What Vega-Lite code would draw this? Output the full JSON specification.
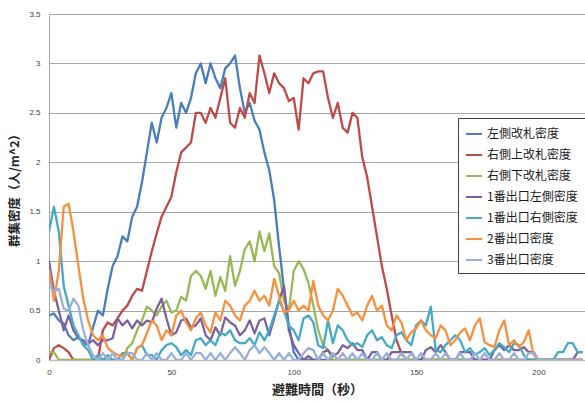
{
"$schema": "https://vega.github.io/schema/vega-lite/v6.json",
"autosize": {"type": "none"},
"width": 536, "height": 346,
"padding": {"left": 49, "top": 14, "right": 0, "bottom": 41},
"background": "white",
"config": {"view": {"stroke": null}, "font": "Noto Sans CJK JP"},
"data": {"values": [
{"t":0,"左側改札密度":0.45,"右側上改札密度":0,"右側下改札密度":0.08,"1番出口左側密度":1.0,"1番出口右側密度":1.3,"2番出口密度":0.92,"3番出口密度":0.75},
{"t":2,"左側改札密度":0.47,"右側上改札密度":0.12,"右側下改札密度":0.08,"1番出口左側密度":0.7,"1番出口右側密度":1.55,"2番出口密度":0.6,"3番出口密度":0.7},
{"t":4,"左側改札密度":0.4,"右側上改札密度":0.15,"右側下改札密度":0,"1番出口左側密度":0.5,"1番出口右側密度":1.3,"2番出口密度":0.9,"3番出口密度":0.72},
{"t":6,"左側改札密度":0.37,"右側上改札密度":0.12,"右側下改札密度":0,"1番出口左側密度":0.3,"1番出口右側密度":0.75,"2番出口密度":1.55,"3番出口密度":0.52},
{"t":8,"左側改札密度":0.25,"右側上改札密度":0.08,"右側下改札密度":0,"1番出口左側密度":0.45,"1番出口右側密度":0.55,"2番出口密度":1.58,"3番出口密度":0.5},
{"t":10,"左側改札密度":0.2,"右側上改札密度":0,"右側下改札密度":0,"1番出口左側密度":0.3,"1番出口右側密度":0.35,"2番出口密度":1.3,"3番出口密度":0.62},
{"t":12,"左側改札密度":0.23,"右側上改札密度":0,"右側下改札密度":0,"1番出口左側密度":0.22,"1番出口右側密度":0.25,"2番出口密度":0.95,"3番出口密度":0.55},
{"t":14,"左側改札密度":0.17,"右側上改札密度":0,"右側下改札密度":0,"1番出口左側密度":0.2,"1番出口右側密度":0.15,"2番出口密度":0.62,"3番出口密度":0.3},
{"t":16,"左側改札密度":0.15,"右側上改札密度":0,"右側下改札密度":0,"1番出口左側密度":0.17,"1番出口右側密度":0.1,"2番出口密度":0.4,"3番出口密度":0.15},
{"t":18,"左側改札密度":0.33,"右側上改札密度":0,"右側下改札密度":0,"1番出口左側密度":0.2,"1番出口右側密度":0,"2番出口密度":0.25,"3番出口密度":0.05},
{"t":20,"左側改札密度":0.5,"右側上改札密度":0,"右側下改札密度":0,"1番出口左側密度":0.15,"1番出口右側密度":0.05,"2番出口密度":0.2,"3番出口密度":0},
{"t":22,"左側改札密度":0.45,"右側上改札密度":0.3,"右側下改札密度":0,"1番出口左側密度":0.2,"1番出口右側密度":0,"2番出口密度":0.25,"3番出口密度":0.07},
{"t":24,"左側改札密度":0.72,"右側上改札密度":0.38,"右側下改札密度":0,"1番出口左側密度":0.2,"1番出口右側密度":0.05,"2番出口密度":0.12,"3番出口密度":0},
{"t":26,"左側改札密度":0.95,"右側上改札密度":0.35,"右側下改札密度":0,"1番出口左側密度":0.22,"1番出口右側密度":0,"2番出口密度":0.08,"3番出口密度":0.07},
{"t":28,"左側改札密度":1.05,"右側上改札密度":0.42,"右側下改札密度":0,"1番出口左側密度":0.42,"1番出口右側密度":0,"2番出口密度":0.05,"3番出口密度":0},
{"t":30,"左側改札密度":1.25,"右側上改札密度":0.5,"右側下改札密度":0,"1番出口左側密度":0.35,"1番出口右側密度":0.07,"2番出口密度":0.04,"3番出口密度":0},
{"t":32,"左側改札密度":1.2,"右側上改札密度":0.55,"右側下改札密度":0.12,"1番出口左側密度":0.4,"1番出口右側密度":0.07,"2番出口密度":0.08,"3番出口密度":0.07},
{"t":34,"左側改札密度":1.45,"右側上改札密度":0.65,"右側下改札密度":0.17,"1番出口左側密度":0.32,"1番出口右側密度":0,"2番出口密度":0,"3番出口密度":0.07},
{"t":36,"左側改札密度":1.55,"右側上改札密度":0.72,"右側下改札密度":0.3,"1番出口左側密度":0.4,"1番出口右側密度":0.12,"2番出口密度":0.12,"3番出口密度":0},
{"t":38,"左側改札密度":1.8,"右側上改札密度":0.7,"右側下改札密度":0.4,"1番出口左側密度":0.35,"1番出口右側密度":0.15,"2番出口密度":0.15,"3番出口密度":0},
{"t":40,"左側改札密度":2.1,"右側上改札密度":0.9,"右側下改札密度":0.54,"1番出口左側密度":0.4,"1番出口右側密度":0.05,"2番出口密度":0.27,"3番出口密度":0.07},
{"t":42,"左側改札密度":2.4,"右側上改札密度":1.1,"右側下改札密度":0.5,"1番出口左側密度":0.38,"1番出口右側密度":0.05,"2番出口密度":0.4,"3番出口密度":0},
{"t":44,"左側改札密度":2.2,"右側上改札密度":1.28,"右側下改札密度":0.45,"1番出口左側密度":0.52,"1番出口右側密度":0,"2番出口密度":0.35,"3番出口密度":0.07},
{"t":46,"左側改札密度":2.45,"右側上改札密度":1.45,"右側下改札密度":0.54,"1番出口左側密度":0.62,"1番出口右側密度":0.1,"2番出口密度":0.2,"3番出口密度":0},
{"t":48,"左側改札密度":2.55,"右側上改札密度":1.55,"右側下改札密度":0.6,"1番出口左側密度":0.42,"1番出口右側密度":0.15,"2番出口密度":0.3,"3番出口密度":0},
{"t":50,"左側改札密度":2.7,"右側上改札密度":1.65,"右側下改札密度":0.48,"1番出口左側密度":0.25,"1番出口右側密度":0.17,"2番出口密度":0.25,"3番出口密度":0.07},
{"t":52,"左側改札密度":2.35,"右側上改札密度":1.9,"右側下改札密度":0.5,"1番出口左側密度":0.28,"1番出口右側密度":0.13,"2番出口密度":0.45,"3番出口密度":0},
{"t":54,"左側改札密度":2.6,"右側上改札密度":2.1,"右側下改札密度":0.64,"1番出口左側密度":0.4,"1番出口右側密度":0.05,"2番出口密度":0.5,"3番出口密度":0},
{"t":56,"左側改札密度":2.5,"右側上改札密度":2.15,"右側下改札密度":0.6,"1番出口左側密度":0.42,"1番出口右側密度":0.1,"2番出口密度":0.38,"3番出口密度":0.07},
{"t":58,"左側改札密度":2.65,"右側上改札密度":2.2,"右側下改札密度":0.85,"1番出口左側密度":0.33,"1番出口右側密度":0.05,"2番出口密度":0.3,"3番出口密度":0},
{"t":60,"左側改札密度":2.9,"右側上改札密度":2.5,"右側下改札密度":0.9,"1番出口左側密度":0.35,"1番出口右側密度":0.2,"2番出口密度":0.42,"3番出口密度":0.07},
{"t":62,"左側改札密度":3.0,"右側上改札密度":2.5,"右側下改札密度":0.85,"1番出口左側密度":0.42,"1番出口右側密度":0.22,"2番出口密度":0.48,"3番出口密度":0.07},
{"t":64,"左側改札密度":2.8,"右側上改札密度":2.4,"右側下改札密度":0.72,"1番出口左側密度":0.25,"1番出口右側密度":0.15,"2番出口密度":0.35,"3番出口密度":0},
{"t":66,"左側改札密度":3.0,"右側上改札密度":2.55,"右側下改札密度":0.9,"1番出口左側密度":0.2,"1番出口右側密度":0.2,"2番出口密度":0.28,"3番出口密度":0.07},
{"t":68,"左側改札密度":2.85,"右側上改札密度":2.45,"右側下改札密度":0.65,"1番出口左側密度":0.33,"1番出口右側密度":0.15,"2番出口密度":0.48,"3番出口密度":0},
{"t":70,"左側改札密度":2.75,"右側上改札密度":2.65,"右側下改札密度":0.84,"1番出口左側密度":0.25,"1番出口右側密度":0.28,"2番出口密度":0.4,"3番出口密度":0.07},
{"t":72,"左側改札密度":2.95,"右側上改札密度":2.85,"右側下改札密度":0.7,"1番出口左側密度":0.43,"1番出口右側密度":0.25,"2番出口密度":0.6,"3番出口密度":0},
{"t":74,"左側改札密度":3.0,"右側上改札密度":2.4,"右側下改札密度":1.05,"1番出口左側密度":0.38,"1番出口右側密度":0.3,"2番出口密度":0.55,"3番出口密度":0.07},
{"t":76,"左側改札密度":3.08,"右側上改札密度":2.35,"右側下改札密度":0.75,"1番出口左側密度":0.35,"1番出口右側密度":0.2,"2番出口密度":0.45,"3番出口密度":0.13},
{"t":78,"左側改札密度":2.75,"右側上改札密度":2.55,"右側下改札密度":0.9,"1番出口左側密度":0.25,"1番出口右側密度":0.17,"2番出口密度":0.4,"3番出口密度":0.07},
{"t":80,"左側改札密度":2.5,"右側上改札密度":2.45,"右側下改札密度":1.12,"1番出口左側密度":0.3,"1番出口右側密度":0.17,"2番出口密度":0.55,"3番出口密度":0},
{"t":82,"左側改札密度":2.6,"右側上改札密度":2.7,"右側下改札密度":1.2,"1番出口左側密度":0.4,"1番出口右側密度":0.22,"2番出口密度":0.6,"3番出口密度":0.1},
{"t":84,"左側改札密度":2.42,"右側上改札密度":2.6,"右側下改札密度":1.0,"1番出口左側密度":0.27,"1番出口右側密度":0.15,"2番出口密度":0.7,"3番出口密度":0.15},
{"t":86,"左側改札密度":2.33,"右側上改札密度":3.08,"右側下改札密度":1.3,"1番出口左側密度":0.4,"1番出口右側密度":0.28,"2番出口密度":0.6,"3番出口密度":0.07},
{"t":88,"左側改札密度":2.1,"右側上改札密度":2.9,"右側下改札密度":1.1,"1番出口左側密度":0.42,"1番出口右側密度":0.2,"2番出口密度":0.65,"3番出口密度":0.13},
{"t":90,"左側改札密度":1.92,"右側上改札密度":2.7,"右側下改札密度":1.28,"1番出口左側密度":0.25,"1番出口右側密度":0.3,"2番出口密度":0.55,"3番出口密度":0.07},
{"t":92,"左側改札密度":1.62,"右側上改札密度":2.9,"右側下改札密度":0.95,"1番出口左側密度":0.42,"1番出口右側密度":0.45,"2番出口密度":0.82,"3番出口密度":0},
{"t":94,"左側改札密度":1.15,"右側上改札密度":2.8,"右側下改札密度":0.88,"1番出口左側密度":0.6,"1番出口右側密度":0.6,"2番出口密度":0.65,"3番出口密度":0.07},
{"t":96,"左側改札密度":0.72,"右側上改札密度":2.75,"右側下改札密度":0.6,"1番出口左側密度":0.75,"1番出口右側密度":0.5,"2番出口密度":0.48,"3番出口密度":0},
{"t":98,"左側改札密度":0.35,"右側上改札密度":2.62,"右側下改札密度":0.5,"1番出口左側密度":0.3,"1番出口右側密度":0.35,"2番出口密度":0.5,"3番出口密度":0.07},
{"t":100,"左側改札密度":0.08,"右側上改札密度":2.65,"右側下改札密度":0.9,"1番出口左側密度":0.15,"1番出口右側密度":0.3,"2番出口密度":0.6,"3番出口密度":0},
{"t":102,"左側改札密度":0,"右側上改札密度":2.33,"右側下改札密度":1.0,"1番出口左側密度":0.07,"1番出口右側密度":0.2,"2番出口密度":0.5,"3番出口密度":0},
{"t":104,"左側改札密度":0,"右側上改札密度":2.85,"右側下改札密度":0.92,"1番出口左側密度":0,"1番出口右側密度":0.42,"2番出口密度":0.55,"3番出口密度":0.07},
{"t":106,"左側改札密度":0,"右側上改札密度":2.8,"右側下改札密度":0.78,"1番出口左側密度":0.04,"1番出口右側密度":0.45,"2番出口密度":0.5,"3番出口密度":0.12},
{"t":108,"左側改札密度":0,"右側上改札密度":2.9,"右側下改札密度":0.55,"1番出口左側密度":0,"1番出口右側密度":0.38,"2番出口密度":0.8,"3番出口密度":0.1},
{"t":110,"左側改札密度":0,"右側上改札密度":2.92,"右側下改札密度":0.3,"1番出口左側密度":0,"1番出口右側密度":0.15,"2番出口密度":0.55,"3番出口密度":0},
{"t":112,"左側改札密度":0,"右側上改札密度":2.92,"右側下改札密度":0.15,"1番出口左側密度":0.08,"1番出口右側密度":0.12,"2番出口密度":0.45,"3番出口密度":0.07},
{"t":114,"左側改札密度":0,"右側上改札密度":2.65,"右側下改札密度":0.1,"1番出口左側密度":0.1,"1番出口右側密度":0.4,"2番出口密度":0.4,"3番出口密度":0},
{"t":116,"左側改札密度":0,"右側上改札密度":2.45,"右側下改札密度":0,"1番出口左側密度":0.04,"1番出口右側密度":0.17,"2番出口密度":0.5,"3番出口密度":0.07},
{"t":118,"左側改札密度":0,"右側上改札密度":2.6,"右側下改札密度":0,"1番出口左側密度":0.07,"1番出口右側密度":0.35,"2番出口密度":0.72,"3番出口密度":0},
{"t":120,"左側改札密度":0,"右側上改札密度":2.35,"右側下改札密度":0,"1番出口左側密度":0.15,"1番出口右側密度":0.3,"2番出口密度":0.65,"3番出口密度":0.07},
{"t":122,"左側改札密度":0,"右側上改札密度":2.3,"右側下改札密度":0,"1番出口左側密度":0.12,"1番出口右側密度":0.2,"2番出口密度":0.55,"3番出口密度":0},
{"t":124,"左側改札密度":0,"右側上改札密度":2.5,"右側下改札密度":0,"1番出口左側密度":0.17,"1番出口右側密度":0.15,"2番出口密度":0.45,"3番出口密度":0.07},
{"t":126,"左側改札密度":0,"右側上改札密度":2.45,"右側下改札密度":0,"1番出口左側密度":0.1,"1番出口右側密度":0.17,"2番出口密度":0.48,"3番出口密度":0},
{"t":128,"左側改札密度":0,"右側上改札密度":2.05,"右側下改札密度":0,"1番出口左側密度":0.1,"1番出口右側密度":0.13,"2番出口密度":0.4,"3番出口密度":0.07},
{"t":130,"左側改札密度":0,"右側上改札密度":1.85,"右側下改札密度":0,"1番出口左側密度":0,"1番出口右側密度":0.25,"2番出口密度":0.55,"3番出口密度":0},
{"t":132,"左側改札密度":0,"右側上改札密度":1.55,"右側下改札密度":0,"1番出口左側密度":0.08,"1番出口右側密度":0.3,"2番出口密度":0.65,"3番出口密度":0},
{"t":134,"左側改札密度":0,"右側上改札密度":1.25,"右側下改札密度":0,"1番出口左側密度":0.08,"1番出口右側密度":0.2,"2番出口密度":0.5,"3番出口密度":0.07},
{"t":136,"左側改札密度":0,"右側上改札密度":0.95,"右側下改札密度":0,"1番出口左側密度":0,"1番出口右側密度":0.23,"2番出口密度":0.55,"3番出口密度":0},
{"t":138,"左側改札密度":0,"右側上改札密度":0.72,"右側下改札密度":0,"1番出口左側密度":0,"1番出口右側密度":0.15,"2番出口密度":0.35,"3番出口密度":0.07},
{"t":140,"左側改札密度":0,"右側上改札密度":0.45,"右側下改札密度":0,"1番出口左側密度":0.08,"1番出口右側密度":0.12,"2番出口密度":0.3,"3番出口密度":0},
{"t":142,"左側改札密度":0,"右側上改札密度":0.2,"右側下改札密度":0,"1番出口左側密度":0.08,"1番出口右側密度":0.25,"2番出口密度":0.45,"3番出口密度":0},
{"t":144,"左側改札密度":0,"右側上改札密度":0.07,"右側下改札密度":0,"1番出口左側密度":0.08,"1番出口右側密度":0.28,"2番出口密度":0.38,"3番出口密度":0.07},
{"t":146,"左側改札密度":0,"右側上改札密度":0,"右側下改札密度":0,"1番出口左側密度":0.08,"1番出口右側密度":0.2,"2番出口密度":0.2,"3番出口密度":0},
{"t":148,"左側改札密度":0,"右側上改札密度":0,"右側下改札密度":0,"1番出口左側密度":0.08,"1番出口右側密度":0.15,"2番出口密度":0.28,"3番出口密度":0.07},
{"t":150,"左側改札密度":0,"右側上改札密度":0,"右側下改札密度":0,"1番出口左側密度":0,"1番出口右側密度":0.35,"2番出口密度":0.32,"3番出口密度":0},
{"t":152,"左側改札密度":0,"右側上改札密度":0,"右側下改札密度":0,"1番出口左側密度":0,"1番出口右側密度":0.4,"2番出口密度":0.4,"3番出口密度":0.07},
{"t":154,"左側改札密度":0,"右側上改札密度":0,"右側下改札密度":0,"1番出口左側密度":0.1,"1番出口右側密度":0.35,"2番出口密度":0.3,"3番出口密度":0},
{"t":156,"左側改札密度":0,"右側上改札密度":0,"右側下改札密度":0,"1番出口左側密度":0.13,"1番出口右側密度":0.54,"2番出口密度":0.25,"3番出口密度":0},
{"t":158,"左側改札密度":0,"右側上改札密度":0,"右側下改札密度":0,"1番出口左側密度":0.08,"1番出口右側密度":0.1,"2番出口密度":0.22,"3番出口密度":0.07},
{"t":160,"左側改札密度":0,"右側上改札密度":0,"右側下改札密度":0,"1番出口左側密度":0.15,"1番出口右側密度":0.08,"2番出口密度":0.35,"3番出口密度":0},
{"t":162,"左側改札密度":0,"右側上改札密度":0,"右側下改札密度":0,"1番出口左側密度":0.08,"1番出口右側密度":0.15,"2番出口密度":0.3,"3番出口密度":0.07},
{"t":164,"左側改札密度":0,"右側上改札密度":0,"右側下改札密度":0,"1番出口左側密度":0,"1番出口右側密度":0.2,"2番出口密度":0.15,"3番出口密度":0},
{"t":166,"左側改札密度":0,"右側上改札密度":0,"右側下改札密度":0,"1番出口左側密度":0,"1番出口右側密度":0.25,"2番出口密度":0.2,"3番出口密度":0},
{"t":168,"左側改札密度":0,"右側上改札密度":0,"右側下改札密度":0,"1番出口左側密度":0.08,"1番出口右側密度":0.2,"2番出口密度":0.28,"3番出口密度":0.07},
{"t":170,"左側改札密度":0,"右側上改札密度":0,"右側下改札密度":0,"1番出口左側密度":0.08,"1番出口右側密度":0.08,"2番出口密度":0.32,"3番出口密度":0},
{"t":172,"左側改札密度":0,"右側上改札密度":0,"右側下改札密度":0,"1番出口左側密度":0.08,"1番出口右側密度":0.12,"2番出口密度":0.2,"3番出口密度":0},
{"t":174,"左側改札密度":0,"右側上改札密度":0,"右側下改札密度":0,"1番出口左側密度":0,"1番出口右側密度":0.05,"2番出口密度":0.35,"3番出口密度":0.07},
{"t":176,"左側改札密度":0,"右側上改札密度":0,"右側下改札密度":0,"1番出口左側密度":0,"1番出口右側密度":0.08,"2番出口密度":0.42,"3番出口密度":0},
{"t":178,"左側改札密度":0,"右側上改札密度":0,"右側下改札密度":0,"1番出口左側密度":0,"1番出口右側密度":0.12,"2番出口密度":0.18,"3番出口密度":0.07},
{"t":180,"左側改札密度":0,"右側上改札密度":0,"右側下改札密度":0,"1番出口左側密度":0,"1番出口右側密度":0.05,"2番出口密度":0.15,"3番出口密度":0},
{"t":182,"左側改札密度":0,"右側上改札密度":0,"右側下改札密度":0,"1番出口左側密度":0.1,"1番出口右側密度":0.1,"2番出口密度":0.13,"3番出口密度":0},
{"t":184,"左側改札密度":0,"右側上改札密度":0,"右側下改札密度":0,"1番出口左側密度":0.15,"1番出口右側密度":0.17,"2番出口密度":0.3,"3番出口密度":0.07},
{"t":186,"左側改札密度":0,"右側上改札密度":0,"右側下改札密度":0,"1番出口左側密度":0.1,"1番出口右側密度":0.13,"2番出口密度":0.4,"3番出口密度":0},
{"t":188,"左側改札密度":0,"右側上改札密度":0,"右側下改札密度":0,"1番出口左側密度":0.15,"1番出口右側密度":0.08,"2番出口密度":0.15,"3番出口密度":0},
{"t":190,"左側改札密度":0,"右側上改札密度":0,"右側下改札密度":0,"1番出口左側密度":0.1,"1番出口右側密度":0.17,"2番出口密度":0.2,"3番出口密度":0.07},
{"t":192,"左側改札密度":0,"右側上改札密度":0,"右側下改札密度":0,"1番出口左側密度":0.1,"1番出口右側密度":0.15,"2番出口密度":0.13,"3番出口密度":0},
{"t":194,"左側改札密度":0,"右側上改札密度":0,"右側下改札密度":0,"1番出口左側密度":0.13,"1番出口右側密度":0.05,"2番出口密度":0.18,"3番出口密度":0},
{"t":196,"左側改札密度":0,"右側上改札密度":0,"右側下改札密度":0,"1番出口左側密度":0.08,"1番出口右側密度":0,"2番出口密度":0.3,"3番出口密度":0.07},
{"t":198,"左側改札密度":0,"右側上改札密度":0,"右側下改札密度":0,"1番出口左側密度":0.08,"1番出口右側密度":0,"2番出口密度":0.05,"3番出口密度":0.07},
{"t":200,"左側改札密度":0,"右側上改札密度":0,"右側下改札密度":0,"1番出口左側密度":0,"1番出口右側密度":0,"2番出口密度":0,"3番出口密度":0},
{"t":202,"左側改札密度":0,"右側上改札密度":0,"右側下改札密度":0,"1番出口左側密度":0,"1番出口右側密度":0,"2番出口密度":0,"3番出口密度":0},
{"t":204,"左側改札密度":0,"右側上改札密度":0,"右側下改札密度":0,"1番出口左側密度":0,"1番出口右側密度":0,"2番出口密度":0,"3番出口密度":0},
{"t":206,"左側改札密度":0,"右側上改札密度":0,"右側下改札密度":0,"1番出口左側密度":0,"1番出口右側密度":0,"2番出口密度":0,"3番出口密度":0},
{"t":208,"左側改札密度":0,"右側上改札密度":0,"右側下改札密度":0,"1番出口左側密度":0,"1番出口右側密度":0.08,"2番出口密度":0,"3番出口密度":0},
{"t":210,"左側改札密度":0,"右側上改札密度":0,"右側下改札密度":0,"1番出口左側密度":0,"1番出口右側密度":0.08,"2番出口密度":0,"3番出口密度":0},
{"t":212,"左側改札密度":0,"右側上改札密度":0,"右側下改札密度":0,"1番出口左側密度":0,"1番出口右側密度":0.17,"2番出口密度":0,"3番出口密度":0},
{"t":214,"左側改札密度":0,"右側上改札密度":0,"右側下改札密度":0,"1番出口左側密度":0,"1番出口右側密度":0.17,"2番出口密度":0,"3番出口密度":0},
{"t":216,"左側改札密度":0,"右側上改札密度":0,"右側下改札密度":0,"1番出口左側密度":0.08,"1番出口右側密度":0.08,"2番出口密度":0,"3番出口密度":0},
{"t":218,"左側改札密度":0,"右側上改札密度":0,"右側下改札密度":0,"1番出口左側密度":0.08,"1番出口右側密度":0.08,"2番出口密度":0,"3番出口密度":0}
]},
"transform": [{"fold": ["左側改札密度","右側上改札密度","右側下改札密度","1番出口左側密度","1番出口右側密度","2番出口密度","3番出口密度"], "as": ["系列","密度"]}],
"mark": {"type": "line", "strokeWidth": 2.3, "strokeJoin": "round", "clip": true},
"encoding": {
  "x": {"field": "t", "type": "quantitative",
        "scale": {"domain": [0, 219], "nice": false, "zero": true},
        "axis": {"values": [0, 50, 100, 150, 200], "title": "避難時間（秒）", "grid": false, "ticks": false,
                 "domainColor": "#BFBFBF", "domainWidth": 1.5, "labelFont": "Liberation Sans", "labelFontSize": 8, "labelColor": "#404040",
                 "labelPadding": 8, "labelFlush": false, "titleFont": "Noto Sans CJK JP", "titleFontSize": 13, "titleFontWeight": "bold", "titleColor": "#262626", "titlePadding": 7}},
  "y": {"field": "密度", "type": "quantitative",
        "scale": {"domain": [0, 3.5], "nice": false},
        "axis": {"values": [0, 0.5, 1, 1.5, 2, 2.5, 3, 3.5], "format": "~g", "title": "群集密度（人/m^2）", "grid": true, "gridColor": "#A6A6A6", "gridWidth": 1, "ticks": false,
                 "domainColor": "#A6A6A6", "labelFont": "Liberation Sans", "labelFontSize": 8, "labelColor": "#404040", "labelPadding": 9,
                 "titleFont": "Noto Sans CJK JP", "titleFontSize": 12.5, "titleFontWeight": "bold", "titleColor": "#262626", "titlePadding": 7}},
  "color": {"field": "系列", "type": "nominal",
        "scale": {"domain": ["左側改札密度","右側上改札密度","右側下改札密度","1番出口左側密度","1番出口右側密度","2番出口密度","3番出口密度"],
                  "range": ["#4A7EBB","#BE4B48","#98B954","#7D60A0","#46AAC5","#F59140","#9AB0DA"]},
        "legend": {"title": null, "orient": "none", "legendX": 409, "legendY": 104, "padding": 7, "strokeColor": "#404040", "fillColor": "white",
                   "symbolType": "stroke", "symbolStrokeWidth": 2, "symbolSize": 256, "labelOffset": 4, "rowPadding": 6,
                   "labelFont": "Noto Sans CJK JP", "labelFontSize": 12, "labelColor": "#1a1a1a", "labelLimit": 200}}
}
}
